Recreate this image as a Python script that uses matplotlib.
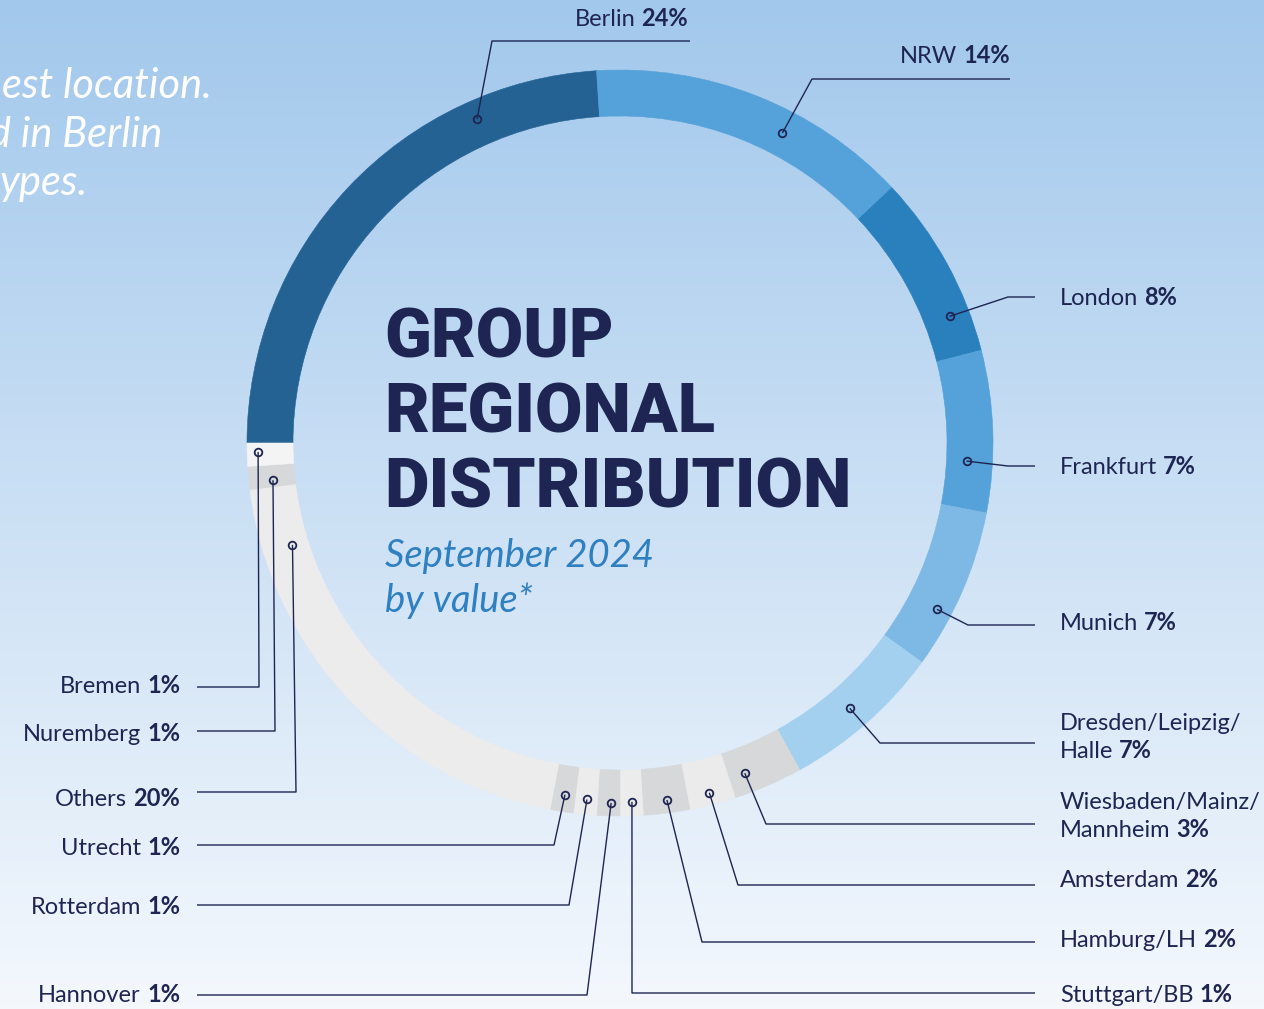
import matplotlib
matplotlib.use("Agg")
import matplotlib.pyplot as plt
import numpy as np
from matplotlib.colors import to_rgb

# ---------------- data ----------------
regions = ["Berlin", "NRW", "London", "Frankfurt", "Munich",
           "Dresden/Leipzig/Halle", "Wiesbaden/Mainz/Mannheim", "Amsterdam",
           "Hamburg/LH", "Stuttgart/BB", "Hannover", "Rotterdam", "Utrecht",
           "Others", "Nuremberg", "Bremen"]
shares = [24, 14, 8, 7, 7, 7, 3, 2, 2, 1, 1, 1, 1, 20, 1, 1]
name_lines = [["Berlin"], ["NRW"], ["London"], ["Frankfurt"], ["Munich"],
              ["Dresden/Leipzig/", "Halle"], ["Wiesbaden/Mainz/", "Mannheim"],
              ["Amsterdam"], ["Hamburg/LH"], ["Stuttgart/BB"], ["Hannover"],
              ["Rotterdam"], ["Utrecht"], ["Others"], ["Nuremberg"], ["Bremen"]]
seg_colors = ["#246294", "#54a2d9", "#2a80bd", "#54a2d9", "#7eb8e4", "#a4d0ef",
              "#d7d8da", "#ebebeb", "#d7d8da", "#ececec", "#d7d8da", "#ececec",
              "#d7d8da", "#ececec", "#d7d8da", "#f4f4f4"]
title_lines = ["GROUP", "REGIONAL", "DISTRIBUTION"]
subtitle_lines = ["September 2024", "by value*"]
intro_lines = ["est location.", "d in Berlin", "ypes."]

# ---------------- layout (pixel coords, y from top) ----------------
W, H = 1264, 1009
CX, CY = 620, 443
R_OUT, RING = 373, 46
# (side, text x, first baseline, leader y, elbow x, line end x, dot fraction, dot radius)
layout = {
    "Berlin":    ("RA", 688, 26, 41, 492, 690, 0.766, 354),
    "NRW":       ("RA", 1010, 63, 79, 812, 1010, 0.62, 350),
    "London":    ("L", 1060, 305, 297, 1008, 1035, 0.77, 353),
    "Frankfurt": ("L", 1060, 474, 466, 1008, 1035, 0.69, 347),
    "Munich":    ("L", 1060, 630, 625, 968, 1035, 0.67, 358),
    "Dresden/Leipzig/Halle":    ("L", 1060, 730, 743, 880, 1035, 0.52, 351),
    "Wiesbaden/Mainz/Mannheim": ("L", 1060, 809, 824, 766, 1035, 0.75, 353),
    "Amsterdam": ("L", 1060, 887, 885, 738, 1035, 0.51, 361),
    "Hamburg/LH": ("L", 1060, 947, 942, 702, 1035, 0.46, 360),
    "Stuttgart/BB": ("L", 1060, 1002, 993, 632, 1035, 0.47, 359),
    "Hannover":  ("R", 180, 1002, 995, 587, 197, 0.39, 360),
    "Rotterdam": ("R", 180, 914, 905, 569, 197, 0.47, 358),
    "Utrecht":   ("R", 180, 855, 845, 554, 197, 0.47, 356),
    "Others":    ("R", 180, 806, 792, 296, 197, 0.86, 343),
    "Nuremberg": ("R", 180, 741, 731, 275, 197, 0.30, 349),
    "Bremen":    ("R", 180, 693, 687, 259, 197, 0.61, 362),
}
NAVY = "#1e2552"
LINE_H = 28
LABEL_FS = 17
LABEL_FONT = "Lato"

def Y(y):
    return H - y

fig = plt.figure(figsize=(W / 100, H / 100), dpi=100)
ax = fig.add_axes([0, 0, 1, 1])

# background gradient
top = np.array(to_rgb("#a2c8ec"))
bot = np.array(to_rgb("#f4f8fd"))
t = np.linspace(0, 1, 256)[:, None]
grad = (top[None, :] * (1 - t) + bot[None, :] * t)[:, None, :]
ax.imshow(grad, extent=(0, W, 0, H), aspect="auto", zorder=0, origin="upper")

# donut
wedges, _ = ax.pie(shares, colors=seg_colors, startangle=180, counterclock=False,
                   radius=R_OUT, center=(CX, Y(CY)),
                   wedgeprops=dict(width=RING, linewidth=0.4))
for w, c in zip(wedges, seg_colors):
    w.set_zorder(2)
    w.set_edgecolor(c)

ax.set_xlim(0, W)
ax.set_ylim(0, H)
ax.set_aspect("equal")
ax.axis("off")

fig.canvas.draw()
renderer = fig.canvas.get_renderer()

def width_of(txt):
    return txt.get_window_extent(renderer).width

GAP = 6

def put_line(name, pct, x, yb, ha):
    kw = dict(fontsize=LABEL_FS, family=LABEL_FONT, color=NAVY, va="baseline", zorder=5)
    if ha == "left":
        t1 = ax.text(x, Y(yb), name, ha="left", fontweight="normal", **kw)
        if pct:
            w1 = width_of(t1)
            ax.text(x + w1 + GAP, Y(yb), pct, ha="left", fontweight="bold", **kw)
    else:
        if pct:
            t2 = ax.text(x, Y(yb), pct, ha="right", fontweight="bold", **kw)
            w2 = width_of(t2)
            ax.text(x - w2 - GAP, Y(yb), name, ha="right", fontweight="normal", **kw)
        else:
            ax.text(x, Y(yb), name, ha="right", **kw)

for w, reg, val, lines in zip(wedges, regions, shares, name_lines):
    side, tx, yb, ly, ex, lend, frac, dr = layout[reg]
    pct = f"{val}%"
    ha = "left" if side == "L" else "right"
    for i, nm in enumerate(lines):
        put_line(nm, pct if i == len(lines) - 1 else None, tx, yb + i * LINE_H, ha)
    # dot on ring
    ang = np.deg2rad(w.theta2 - frac * (w.theta2 - w.theta1))
    dx = CX + dr * np.cos(ang)
    dy = Y(CY) + dr * np.sin(ang)
    ax.plot([dx, ex, lend], [dy, Y(ly), Y(ly)], color=NAVY, lw=1.0,
            solid_capstyle="butt", zorder=4)
    ax.plot([dx], [dy], marker="o", ms=5.5, mfc="none", mec=NAVY, mew=1.3, zorder=6)

# title
for i, s in enumerate(title_lines):
    ax.text(384, Y(358 + i * 74.5), s, fontsize=49.5, family="Roboto", fontweight="black",
            color=NAVY, ha="left", va="baseline", zorder=5)
for i, s in enumerate(subtitle_lines):
    ax.text(385, Y(567 + i * 45), s, fontsize=27.5, family="Lato", style="italic",
            fontweight="normal", color="#2e80c1", ha="left", va="baseline", zorder=5)

# cropped intro text at top-left (cut by the image edge, as in the reference)
intro_x = [212, 162, 88]
intro_b = [98, 147, 195]
for s, x, b in zip(intro_lines, intro_x, intro_b):
    ax.text(x, Y(b), s, fontsize=30, family="Lato", style="italic", color="white",
            ha="right", va="baseline", zorder=5)

fig.savefig("out.png", dpi=100)
